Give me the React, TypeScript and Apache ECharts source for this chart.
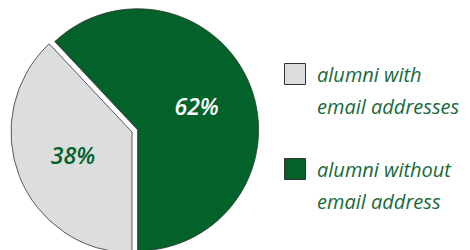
import React, { useEffect, useRef } from "react";
import * as echarts from "echarts";

const categories = ["alumni without email address", "alumni with email addresses"];
const values = [62, 38];
const legendLines = [
  ["alumni with", "email addresses"],
  ["alumni without", "email address"],
];
const colors = ["#02622A", "#DCDDDF"];
const legendColors = ["#DCDDDF", "#02622A"];

export default function App() {
  const ref = useRef<HTMLDivElement>(null);
  useEffect(() => {
    if (!ref.current) return;
    const chart = echarts.init(ref.current, undefined, { renderer: "svg" });
    const textColor = "#18693A";
    const graphic: any[] = [];
    const legendTop = [63, 158];
    legendLines.forEach((lines, i) => {
      graphic.push({
        type: "rect",
        shape: { x: 284.5, y: legendTop[i] + 0.5, width: 21, height: 21 },
        style: { fill: legendColors[i], stroke: "#333", lineWidth: 1 },
      });
      lines.forEach((t, j) => {
        graphic.push({
          type: "text",
          x: 317,
          y: legendTop[i] + 11 + j * 32,
          style: {
            text: t,
            fill: textColor,
            font: "italic 20px 'Open Sans'",
            verticalAlign: "middle",
            align: "left",
          },
        });
      });
    });
    chart.setOption({
      animation: false,
      graphic,
      series: [
        {
          type: "pie",
          center: [132, 132],
          radius: 121,
          startAngle: 133.2,
          clockwise: true,
          selectedMode: "single",
          selectedOffset: 6,
          avoidLabelOverlap: false,
          labelLine: { show: false },
          emphasis: { disabled: true },
          itemStyle: { borderColor: "#333", borderWidth: 0.8 },
          data: categories.map((c, i) => ({
            name: c,
            value: values[i],
            selected: i === 0,
            itemStyle: { color: colors[i] },
            label: {
              show: true,
              position: "inside",
              formatter: "{d}%",
              color: i === 0 ? "#FFFFFF" : "#02622A",
              fontSize: 23,
              fontStyle: "italic",
              fontWeight: 600,
              fontFamily: "Open Sans",
            },
          })),
        },
      ],
    });
    return () => chart.dispose();
  }, []);
  return (
    <div
      ref={ref}
      style={{ position: "fixed", left: 0, top: 0, width: 470, height: 250, background: "#fff" }}
    />
  );
}
